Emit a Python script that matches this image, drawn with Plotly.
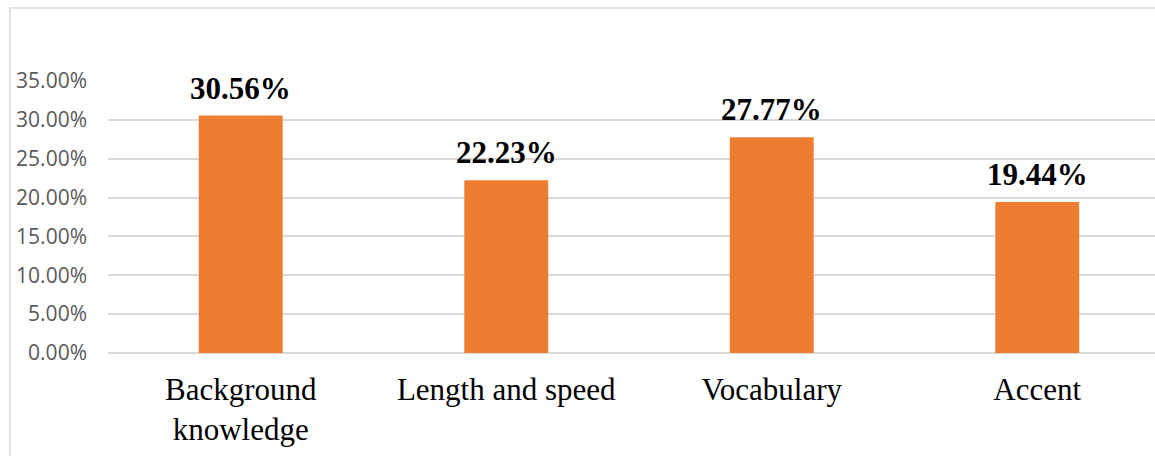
import plotly.graph_objects as go

categories = ["Background<br>knowledge", "Length and speed", "Vocabulary", "Accent"]
values = [0.3056, 0.2223, 0.2777, 0.1944]
labels = ["30.56%", "22.23%", "27.77%", "19.44%"]
tick_vals = [0, 0.05, 0.10, 0.15, 0.20, 0.25, 0.30, 0.35]
tick_text = ["0.00%", "5.00%", "10.00%", "15.00%", "20.00%", "25.00%", "30.00%", "35.00%"]

W, H = 1155, 456
ml, mr, mt, mb = 108, 0, 81, 103
pw = W - ml - mr
ph = H - mt - mb

fig = go.Figure()
fig.add_trace(go.Bar(
    x=list(range(len(categories))), y=values,
    marker=dict(color="#ED7D31", line=dict(width=0)),
    width=0.316,
    hoverinfo="skip",
))

for i, (v, t) in enumerate(zip(values, labels)):
    fig.add_annotation(
        x=i, y=v, text=t, showarrow=False, yanchor="bottom",
        yshift=8,
        font=dict(family="Liberation Serif", size=31, color="#000000", weight="bold"),
    )

# chart border
fig.add_shape(
    type="rect", xref="paper", yref="paper",
    x0=(10 - ml) / pw, x1=(W + 20 - ml) / pw,
    y0=-(H + 20 - mt - ph) / ph, y1=(H - mb - 8) / ph,
    line=dict(color="#d9d9d9", width=1.5), fillcolor="rgba(0,0,0,0)", layer="below",
)

fig.update_layout(
    width=W, height=H,
    margin=dict(l=ml, r=mr, t=mt, b=mb, pad=0),
    paper_bgcolor="white", plot_bgcolor="white",
    showlegend=False,
    xaxis=dict(
        range=[-0.5, 3.4435],
        tickmode="array", tickvals=list(range(len(categories))), ticktext=categories,
        showgrid=False, zeroline=False, showline=False, ticks="",
        ticklabelstandoff=15,
        tickfont=dict(family="Liberation Serif", size=31, color="#000000"),
    ),
    yaxis=dict(
        range=[0, 0.35],
        tickmode="array", tickvals=tick_vals, ticktext=tick_text,
        showgrid=True, gridcolor="#d9d9d9", gridwidth=1.5,
        zeroline=True, zerolinecolor="#d9d9d9", zerolinewidth=1.5,
        showline=False, ticks="", ticklabelstandoff=20,
        tickfont=dict(family="Open Sans", size=21, color="#595959"),
    ),
)

fig.write_html("out.html")
